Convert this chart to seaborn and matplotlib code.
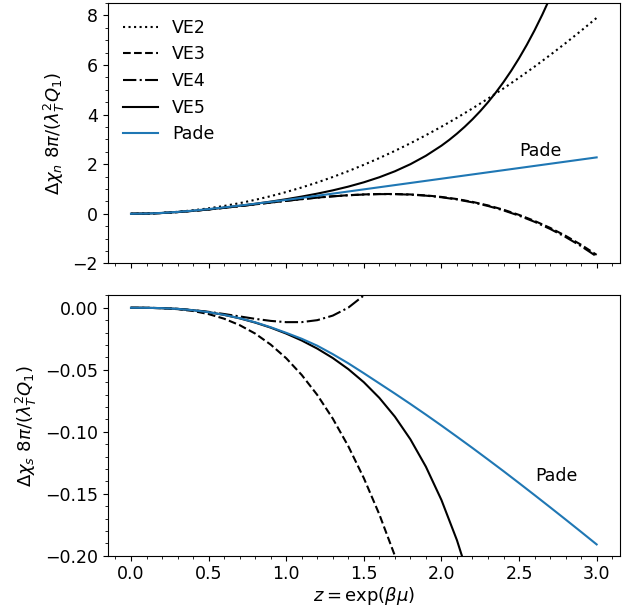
import numpy as np
import pandas as pd
import seaborn as sns
import matplotlib
matplotlib.use("Agg")
import matplotlib.pyplot as plt

# fugacity grid
z = [0.0, 0.1, 0.2, 0.3, 0.4, 0.5, 0.6, 0.7, 0.8, 0.9, 1.0,
     1.1, 1.2, 1.3, 1.4, 1.5, 1.6, 1.7, 1.8, 1.9, 2.0,
     2.1, 2.2, 2.3, 2.4, 2.5, 2.6, 2.7, 2.8, 2.9, 3.0]
# finer grid for the steep VE5 branch
z5 = [0.0, 0.1, 0.2, 0.3, 0.4, 0.5, 0.6, 0.7, 0.8, 0.9, 1.0,
      1.1, 1.2, 1.3, 1.4, 1.5, 1.6, 1.7, 1.8, 1.9, 2.0,
      2.05, 2.1, 2.15, 2.2, 2.25, 2.3, 2.35, 2.4, 2.45, 2.5,
      2.55, 2.6, 2.65, 2.7, 2.75, 2.8]

# top panel: density susceptibility
top_ve2 = [0.0, 0.009, 0.035, 0.079, 0.141, 0.220, 0.316, 0.430, 0.562, 0.711, 0.878,
           1.062, 1.264, 1.484, 1.721, 1.976, 2.248, 2.537, 2.845, 3.170, 3.512,
           3.872, 4.250, 4.645, 5.057, 5.488, 5.935, 6.401, 6.884, 7.384, 7.902]
top_ve3 = [0.0, 0.008, 0.032, 0.069, 0.118, 0.175, 0.240, 0.309, 0.381, 0.453, 0.524,
           0.591, 0.653, 0.706, 0.750, 0.781, 0.798, 0.798, 0.780, 0.742, 0.680,
           0.594, 0.480, 0.338, 0.164, -0.044, -0.287, -0.567, -0.888, -1.250, -1.656]
top_ve4 = [0.0, 0.008, 0.032, 0.069, 0.118, 0.175, 0.240, 0.309, 0.380, 0.453, 0.523,
           0.590, 0.651, 0.704, 0.746, 0.777, 0.793, 0.792, 0.772, 0.731, 0.667,
           0.578, 0.461, 0.315, 0.137, -0.075, -0.323, -0.610, -0.937, -1.306, -1.721]
top_ve5 = [0.0, 0.008, 0.032, 0.070, 0.119, 0.177, 0.245, 0.320, 0.402, 0.491, 0.588,
           0.695, 0.813, 0.945, 1.096, 1.270, 1.474, 1.714, 2.000, 2.341, 2.747,
           2.979, 3.233, 3.510, 3.811, 4.140, 4.499, 4.889, 5.313, 5.773, 6.273,
           6.814, 7.400, 8.034, 8.717, 9.455, 10.250]
top_pade = [0.0, 0.009, 0.034, 0.075, 0.128, 0.190, 0.258, 0.330, 0.405, 0.482, 0.560,
            0.643, 0.728, 0.813, 0.899, 0.985, 1.071, 1.157, 1.243, 1.329, 1.415,
            1.501, 1.587, 1.673, 1.759, 1.845, 1.931, 2.017, 2.103, 2.189, 2.275]

# bottom panel: spin susceptibility
bot_ve3 = [0.0, -0.00004, -0.00033, -0.0011, -0.0026, -0.0051, -0.0088, -0.0140, -0.0208,
           -0.0297, -0.0407, -0.0542, -0.0703, -0.0894, -0.1117, -0.1374, -0.1667,
           -0.2000, -0.2374]
bot_ve4 = [0.0, -0.00004, -0.00028, -0.00086, -0.00186, -0.00327, -0.00502, -0.00697,
           -0.00892, -0.01058, -0.0116, -0.01156, -0.00999, -0.00631, 0.00011, 0.00996,
           0.0240, 0.0431]
bot_ve5 = [0.0, -0.00004, -0.00028, -0.00089, -0.00195, -0.00356, -0.00574, -0.00852,
           -0.01194, -0.01602, -0.02082, -0.02641, -0.03293, -0.04054, -0.04948, -0.06005,
           -0.07268, -0.08782, -0.10610, -0.12823, -0.15504, -0.18753, -0.22686]
bot_pade = [0.0, -0.00004, -0.00028, -0.00089, -0.00195, -0.00355, -0.0057, -0.0084, -0.0117,
            -0.0157, -0.0202, -0.0250, -0.0306, -0.0374, -0.0448, -0.0528, -0.0610,
            -0.0692, -0.0776, -0.0862, -0.0950, -0.1040, -0.1131, -0.1224, -0.1318,
            -0.1414, -0.1511, -0.1609, -0.1708, -0.1808, -0.1909]

plt.rcParams['font.size'] = 12.5
plt.rcParams['xtick.labelsize'] = 12.5
plt.rcParams['ytick.labelsize'] = 12.5

fig, (ax1, ax2) = plt.subplots(2, 1, figsize=(6.3, 6.12), dpi=100, sharex=True)
fig.subplots_adjust(left=0.171, right=0.984, top=0.995, bottom=0.092, hspace=0.123)

blue = '#1f77b4'

# Top panel
sns.lineplot(x=z, y=top_ve2, ax=ax1, color='k', linestyle=':', label='VE2')
sns.lineplot(x=z, y=top_ve3, ax=ax1, color='k', linestyle='--', label='VE3')
sns.lineplot(x=z, y=top_ve4, ax=ax1, color='k', linestyle='-.', label='VE4')
sns.lineplot(x=z5, y=top_ve5, ax=ax1, color='k', linestyle='-', label='VE5')
sns.lineplot(x=z, y=top_pade, ax=ax1, color=blue, linestyle='-', label='Pade')
ax1.set_ylim(-2, 8.5)
ax1.set_ylabel(r'$\Delta\chi_n\ 8\pi/(\lambda_T^2 Q_1)$', fontsize=13)
ax1.text(2.64, 2.55, 'Pade', ha='center', va='center', fontsize=12.5)
ax1.legend(loc='upper left', frameon=False, fontsize=12.5)

# Bottom panel
sns.lineplot(x=z[:len(bot_ve3)], y=bot_ve3, ax=ax2, color='k', linestyle='--')
sns.lineplot(x=z[:len(bot_ve4)], y=bot_ve4, ax=ax2, color='k', linestyle='-.')
sns.lineplot(x=z[:len(bot_ve5)], y=bot_ve5, ax=ax2, color='k', linestyle='-')
sns.lineplot(x=z, y=bot_pade, ax=ax2, color=blue, linestyle='-')
ax2.set_ylim(-0.2, 0.01)
ax2.set_ylabel(r'$\Delta\chi_s\ 8\pi/(\lambda_T^2 Q_1)$', fontsize=13)
ax2.set_xlabel(r'$z = \exp(\beta\mu)$', fontsize=13, labelpad=1)
ax2.text(2.74, -0.1356, 'Pade', ha='center', va='center', fontsize=12.5)
ax2.set_xlim(-0.15, 3.15)

for ax in (ax1, ax2):
    ax.minorticks_on()

fig.savefig('out.png', dpi=100)
